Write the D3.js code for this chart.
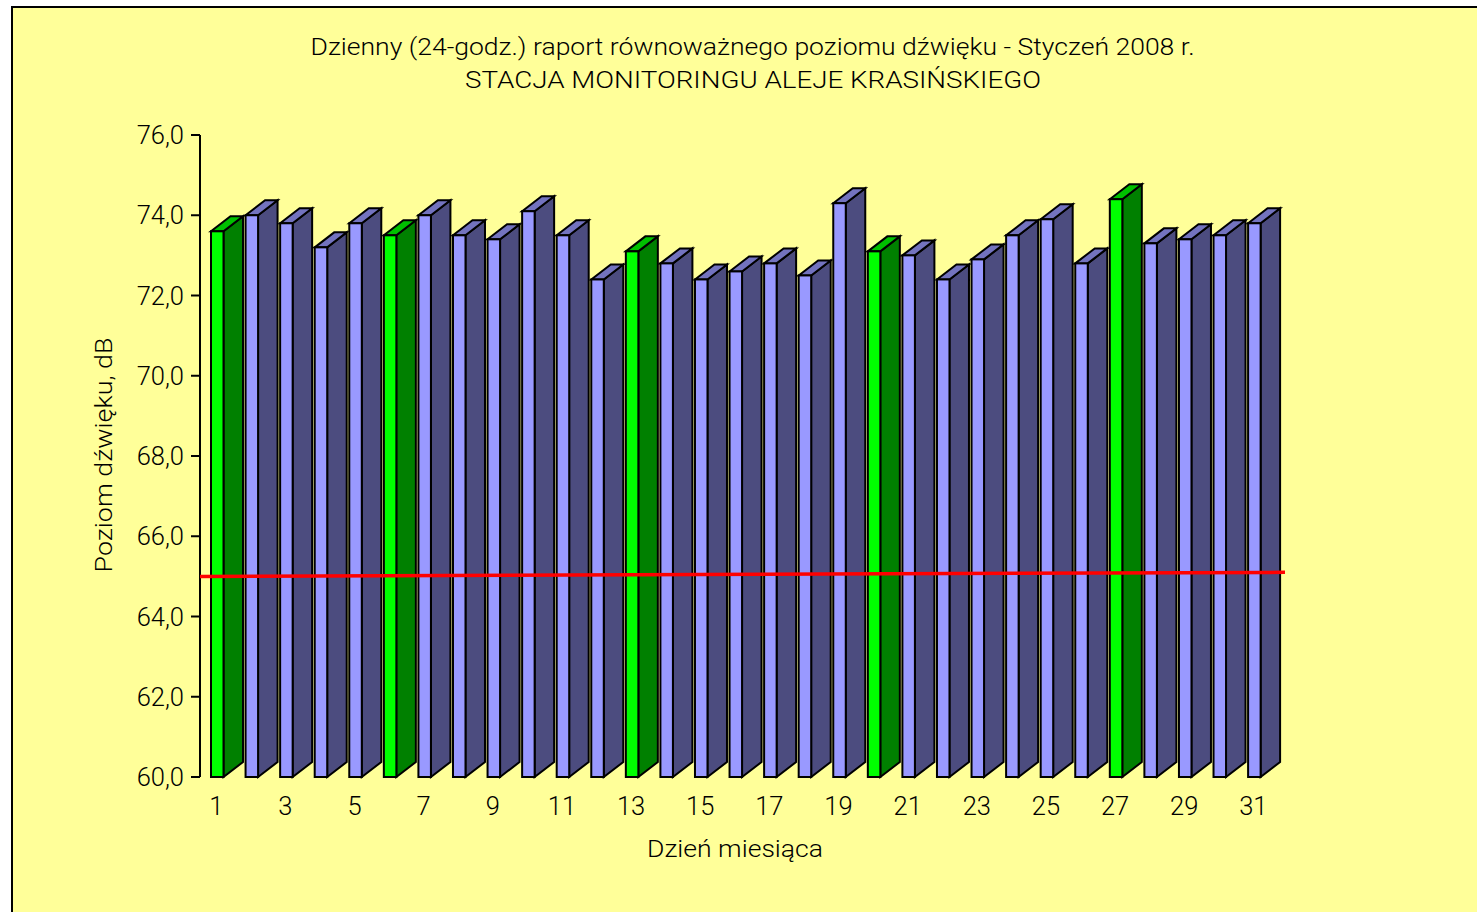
<!DOCTYPE html>
<html>
<head>
<meta charset="utf-8">
<script src="https://cdn.jsdelivr.net/npm/d3@7"></script>
<style>
  html, body { margin: 0; padding: 0; background: #ffffff; }
  svg { display: block; }
  text { font-family: Roboto, "DejaVu Sans", sans-serif; font-weight: 300; fill: #000; }
</style>
</head>
<body>
<svg id="chart" width="1477" height="912"></svg>
<script>
// ---- data ----
const days = [1,2,3,4,5,6,7,8,9,10,11,12,13,14,15,16,17,18,19,20,21,22,23,24,25,26,27,28,29,30,31];
const levels = [73.6,74.0,73.8,73.2,73.8,73.5,74.0,73.5,73.4,74.1,73.5,72.4,73.1,72.8,72.4,72.6,72.8,72.5,74.3,73.1,73.0,72.4,72.9,73.5,73.9,72.8,74.4,73.3,73.4,73.5,73.8];
const holidays = [1,6,13,20,27];
const limitValues = [65.0, 65.1];
const yTicks = [60,62,64,66,68,70,72,74,76];
const xTickLabels = [1,3,5,7,9,11,13,15,17,19,21,23,25,27,29,31];
const titleLines = ["Dzienny (24-godz.) raport równoważnego poziomu dźwięku - Styczeń 2008 r.",
                    "STACJA MONITORINGU ALEJE KRASIŃSKIEGO"];
const yTitle = "Poziom dźwięku, dB";
const xTitle = "Dzień miesiąca";

// ---- layout ----
const svg = d3.select("#chart");
const axisX = 200, yTop = 135, yBottom = 777;
const step = 34.57;
const frontOffset = 11, frontW = 12.5, dx = 19.5, dy = 15;

const x = d3.scaleBand().domain(days).range([axisX, axisX + step * days.length]).padding(0);
const y = d3.scaleLinear().domain([60, 76]).range([yBottom, yTop]);

const colors = {
  blue:  { front: "#9999FF", side: "#4C4C7F", top: "#7373BF" },
  green: { front: "#00FF00", side: "#008000", top: "#00C000" }
};

// background frame
svg.append("rect").attr("x", 12).attr("y", 7).attr("width", 1600).attr("height", 1000)
  .attr("fill", "#FFFF99").attr("stroke", "#000").attr("stroke-width", 2);

// titles
svg.append("text").attr("x", 752.5).attr("y", 55).attr("text-anchor", "middle")
  .attr("font-size", 24).attr("textLength", 884).attr("lengthAdjust", "spacingAndGlyphs")
  .text(titleLines[0]);
svg.append("text").attr("x", 753).attr("y", 88).attr("text-anchor", "middle")
  .attr("font-size", 24).attr("textLength", 576).attr("lengthAdjust", "spacingAndGlyphs")
  .text(titleLines[1]);

// y axis
const gy = svg.append("g");
gy.append("line").attr("x1", axisX).attr("x2", axisX).attr("y1", yTop).attr("y2", yBottom)
  .attr("stroke", "#000").attr("stroke-width", 2);
gy.selectAll("line.tick").data(yTicks).enter().append("line").attr("class", "tick")
  .attr("x1", 191).attr("x2", axisX).attr("y1", d => y(d)).attr("y2", d => y(d))
  .attr("stroke", "#000").attr("stroke-width", 2);
const fmt = d3.format(".1f");
gy.selectAll("text").data(yTicks).enter().append("text")
  .attr("x", 184).attr("y", d => y(d) + 9).attr("text-anchor", "end").attr("font-size", 25.5)
  .text(d => fmt(d).replace(".", ","));

// bars
const rows = days.map((d, i) => ({ day: d, v: levels[i], c: holidays.includes(d) ? colors.green : colors.blue }));
const gb = svg.append("g").attr("stroke", "#000").attr("stroke-width", 2).attr("stroke-linejoin", "miter");
rows.forEach(r => {
  const fx = x(r.day) + frontOffset;
  const yt = y(r.v), y0 = y(60);
  const g = gb.append("g");
  g.append("path").attr("fill", r.c.side)
    .attr("d", `M${fx+frontW},${y0}L${fx+frontW+dx},${y0-dy}L${fx+frontW+dx},${yt-dy}L${fx+frontW},${yt}Z`);
  g.append("path").attr("fill", r.c.top)
    .attr("d", `M${fx},${yt}L${fx+dx},${yt-dy}L${fx+frontW+dx},${yt-dy}L${fx+frontW},${yt}Z`);
  g.append("rect").attr("fill", r.c.front)
    .attr("x", fx).attr("y", yt).attr("width", frontW).attr("height", y0 - yt);
});

// limit line
const limitX = [axisX, 1285];
svg.append("line")
  .attr("x1", limitX[0]).attr("x2", limitX[1])
  .attr("y1", y(limitValues[0])).attr("y2", y(limitValues[1]))
  .attr("stroke", "#FF0000").attr("stroke-width", 3.5);

// x labels
svg.append("g").selectAll("text").data(xTickLabels).enter().append("text")
  .attr("x", d => x(d) + frontOffset + frontW / 2 - 1).attr("y", 815)
  .attr("text-anchor", "middle").attr("font-size", 25.5).text(d => d);

// axis titles
svg.append("text").attr("transform", "translate(112,455) rotate(-90)")
  .attr("text-anchor", "middle").attr("font-size", 24)
  .attr("textLength", 235).attr("lengthAdjust", "spacingAndGlyphs").text(yTitle);
svg.append("text").attr("x", 735).attr("y", 857).attr("text-anchor", "middle")
  .attr("font-size", 24).attr("textLength", 176).attr("lengthAdjust", "spacingAndGlyphs").text(xTitle);
</script>
</body>
</html>
